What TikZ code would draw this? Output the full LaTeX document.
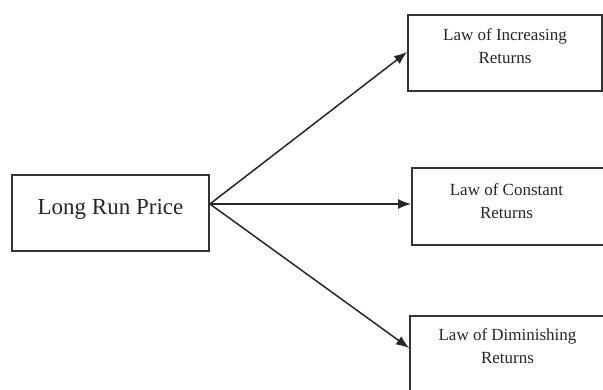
\documentclass[tikz,border=0pt]{standalone}
\usepackage{fontspec}
\setmainfont{Liberation Serif}
\usetikzlibrary{arrows.meta}
\begin{document}
\begin{tikzpicture}[x=1pt,y=1pt,
  box/.style={draw=black!80, line width=1.8pt, fill=white, inner sep=0pt},
  small/.style={font=\fontsize{17}{23}\selectfont, align=center, inner sep=0pt, text=black!85},
  big/.style={font=\fontsize{23}{28}\selectfont, inner sep=0pt, text=black!85},
  conn/.style={draw=black!85, line width=1.5pt, -{Latex[length=13pt,width=10pt]}}]
\useasboundingbox (0,0) rectangle (603,389);
\node[box, minimum width=197pt, minimum height=76pt] (L) at (110.5,176) {};
\node[big, anchor=base] (Lt) at ([yshift=-1.6pt]L.center) {Long Run Price};
\node[box, minimum width=194pt, minimum height=76pt] (b1) at (505,336) {};
\node[small, anchor=north] (t1) at ([yshift=-14pt]b1.north) {Law of Increasing\\Returns};
\node[box, minimum width=193pt, minimum height=77pt] (b2) at (508.5,182.5) {};
\node[small, anchor=north] (t2) at ([xshift=-2pt,yshift=-16pt]b2.north) {Law of Constant\\Returns};
\node[box, minimum width=195pt, minimum height=79pt] (b3) at (507.5,33.5) {};
\node[small, anchor=north] (t3) at ([yshift=-13pt]b3.north) {Law of Diminishing\\Returns};
\coordinate (o) at ([yshift=9pt]L.east);
\draw[conn] (o) -- ([yshift=1pt]b1.west);
\draw[conn] (o) -- (b2.west |- o);
\draw[conn] (o) -- ([yshift=7.5pt]b3.west);
\end{tikzpicture}
\end{document}
